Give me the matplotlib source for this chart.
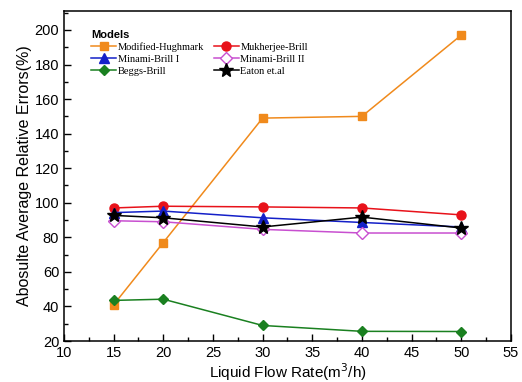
import matplotlib.pyplot as plt
from matplotlib.ticker import MultipleLocator

flow = [15, 20, 30, 40, 50]
hughmark = [41, 77, 149, 150, 197]
mukherjee = [97, 98, 97.6, 97, 93]
minami1 = [94.3, 95.2, 91.3, 88.6, 86]
minami2 = [89.6, 89, 84.6, 82.5, 82.5]
beggs = [43.5, 44.2, 29, 25.6, 25.5]
eaton = [92.7, 91.3, 86, 91.7, 85.4]

plt.rcParams['font.family'] = ['Liberation Sans', 'DejaVu Sans']

fig = plt.figure(figsize=(5.22, 3.82), dpi=100)
ax = fig.add_axes([0.1226, 0.1073, 0.856, 0.864])

h1, = ax.plot(flow, hughmark, color='#F08A1C', marker='s', ms=5.5, lw=1.1, label='Modified-Hughmark')
h2, = ax.plot(flow, mukherjee, color='#E8121A', marker='o', ms=6.5, lw=1.1, label='Mukherjee-Brill')
h3, = ax.plot(flow, minami1, color='#1420C8', marker='^', ms=6.5, lw=1.1, label='Minami-Brill I')
h4, = ax.plot(flow, minami2, color='#C84FD0', marker='D', ms=6.5, lw=1.1, mfc='white', label='Minami-Brill II')
h5, = ax.plot(flow, beggs, color='#1A8020', marker='D', ms=5.5, lw=1.1, label='Beggs-Brill')
h6, = ax.plot(flow, eaton, color='black', marker='*', ms=10, lw=1.1, label='Eaton et.al')

ax.set_xlim(10, 55)
ax.set_ylim(20, 211)
ax.xaxis.set_major_locator(MultipleLocator(5))
ax.xaxis.set_minor_locator(MultipleLocator(2.5))
ax.yaxis.set_major_locator(MultipleLocator(20))
ax.yaxis.set_minor_locator(MultipleLocator(10))
ax.tick_params(which='both', direction='in', top=False, right=False, labelsize=10.5)
ax.tick_params(which='major', length=5, width=1)
ax.tick_params(which='minor', length=3, width=1)
for s in ax.spines.values():
    s.set_linewidth(1.1)

ax.set_xlabel('Liquid Flow Rate(m$^3$/h)', fontsize=11, labelpad=1)
ax.set_ylabel('Abosulte Average Relative Errors(%)', fontsize=11.5, labelpad=2)

# row-wise order as in the original legend
handles = [h1, h3, h5, h2, h4, h6]
leg = ax.legend(handles=handles, loc='upper left', bbox_to_anchor=(0.045, 0.965), ncol=2,
                frameon=False, title='Models', prop={'family': 'Liberation Serif', 'size': 7.5},
                handlelength=2.4, handletextpad=0.15, columnspacing=0.9,
                labelspacing=0.25, borderpad=0.2)
leg.get_title().set_fontweight('bold')
leg.get_title().set_fontsize(8)
leg._legend_box.align = 'left'

fig.savefig('out.png', dpi=100)
